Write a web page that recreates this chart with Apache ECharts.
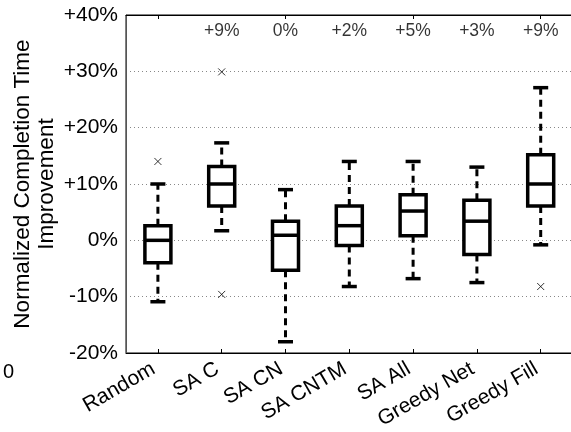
<!DOCTYPE html>
<html><head><meta charset="utf-8">
<script src="https://cdn.jsdelivr.net/npm/echarts@6/dist/echarts.min.js"></script>
<style>html,body{margin:0;padding:0;background:#fff}#c{width:571px;height:432px}</style>
</head><body><div id="c"></div>
<script>
var categories = ['Random','SA C','SA CN','SA CNTM','SA All','Greedy Net','Greedy Fill'];
// [low whisker, q1, median, q3, high whisker]
var lowWhisker = [-10.9, 1.7, -18.0, -8.2, -6.8, -7.5, -0.8];
var q1Values   = [-4.0, 6.1, -5.3, -0.9, 0.8, -2.5, 6.1];
var medians    = [0.0, 10.0, 0.9, 2.6, 5.2, 3.4, 10.0];
var q3Values   = [2.6, 13.1, 3.4, 6.1, 8.1, 7.1, 15.2];
var highWhisker= [10.0, 17.3, 9.0, 14.0, 14.0, 13.0, 27.1];
var outliers = [[0, 14.0], [1, 29.9], [1, -9.6], [6, -8.2]];
var topLabels = ['', '+9%', '0%', '+2%', '+5%', '+3%', '+9%'];
var topLabelLevel = 37.1;
var yTicks = {min: -20, max: 40, interval: 10};

var boxData = categories.map(function(c, i){
  return [i, lowWhisker[i], q1Values[i], medians[i], q3Values[i], highWhisker[i]];
});
var topData = categories.map(function(c, i){ return [i, topLabelLevel]; });

var chart = echarts.init(document.getElementById('c'));
var FONT = 'Liberation Sans, Arial, sans-serif';
chart.setOption({
  animation: false,
  grid: {left: 126, top: 15, width: 446.6, height: 338, show: true, borderColor: '#000', borderWidth: 1,
    backgroundColor: 'transparent', outerBoundsMode: 'none', containLabel: false},
  xAxis: [{
    type: 'category', data: categories, boundaryGap: true,
    axisLine: {onZero: false, lineStyle: {color: '#000', width: 1}},
    axisTick: {show: true, inside: true, length: 4, alignWithLabel: true, lineStyle: {color: '#000'}},
    axisLabel: {rotate: 30, fontSize: 21, color: '#000', fontFamily: FONT, margin: 12, interval: 0,
      padding: [0, 5, 0, 0], hideOverlap: false},
    splitLine: {show: false}
  }, {
    type: 'category', data: categories, boundaryGap: true, position: 'top',
    axisLine: {onZero: false, lineStyle: {color: '#000', width: 1}},
    axisTick: {show: true, inside: true, length: 4, alignWithLabel: true, lineStyle: {color: '#000'}},
    axisLabel: {show: false}, splitLine: {show: false}
  }],
  yAxis: {
    type: 'value', min: yTicks.min, max: yTicks.max, interval: yTicks.interval,
    name: 'Normalized Completion Time\nImprovement', nameLocation: 'middle', nameGap: 67,
    nameMoveOverlap: false,
    nameTextStyle: {fontSize: 22.5, color: '#000', fontFamily: FONT, lineHeight: 24},
    axisLine: {show: true, lineStyle: {color: '#555', width: 1}},
    axisTick: {show: false},
    axisLabel: {fontSize: 21, color: '#000', fontFamily: FONT, margin: 8,
      formatter: function(v){ return (v > 0 ? '+' : '') + v + '%'; }},
    splitLine: {show: true, lineStyle: {color: '#888', type: [1, 3], width: 1}}
  },
  graphic: [{type: 'text', left: 3, top: 362, style: {text: '0', fontSize: 20, fill: '#000', fontFamily: FONT}}],
  series: [
    {
      type: 'custom',
      data: boxData,
      encode: {x: 0, y: [1, 2, 3, 4, 5]},
      renderItem: function(params, api){
        var x = api.value(0);
        var bw = 26, cw = 15;
        var pLow = api.coord([x, api.value(1)]);
        var pQ1 = api.coord([x, api.value(2)]);
        var pMed = api.coord([x, api.value(3)]);
        var pQ3 = api.coord([x, api.value(4)]);
        var pHigh = api.coord([x, api.value(5)]);
        var cx = pMed[0];
        var solid = {stroke: '#000', lineWidth: 3.5, fill: null};
        var dash = {stroke: '#000', lineWidth: 3, lineDash: [7, 5], fill: null};
        return {type: 'group', children: [
          {type: 'line', shape: {x1: cx, y1: pQ3[1], x2: cx, y2: pHigh[1]}, style: dash},
          {type: 'line', shape: {x1: cx, y1: pQ1[1], x2: cx, y2: pLow[1]}, style: dash},
          {type: 'line', shape: {x1: cx - cw/2, y1: pHigh[1], x2: cx + cw/2, y2: pHigh[1]}, style: solid},
          {type: 'line', shape: {x1: cx - cw/2, y1: pLow[1], x2: cx + cw/2, y2: pLow[1]}, style: solid},
          {type: 'rect', shape: {x: cx - bw/2, y: pQ3[1], width: bw, height: pQ1[1] - pQ3[1]}, style: {stroke: '#000', lineWidth: 3.5, fill: '#fff'}},
          {type: 'line', shape: {x1: cx - bw/2, y1: pMed[1], x2: cx + bw/2, y2: pMed[1]}, style: solid}
        ]};
      },
      z: 3
    },
    {
      type: 'scatter', data: outliers, symbol: 'path://M0,0L10,10M10,0L0,10', symbolSize: 7,
      itemStyle: {color: 'none', borderColor: '#000', borderWidth: 1}, z: 4
    },
    {
      type: 'scatter', data: topData, symbolSize: 0,
      label: {show: true, position: 'inside', fontSize: 17.5, color: '#000', fontFamily: FONT,
        formatter: function(p){ return topLabels[p.dataIndex]; }},
      z: 4
    }
  ]
});
</script></body></html>
